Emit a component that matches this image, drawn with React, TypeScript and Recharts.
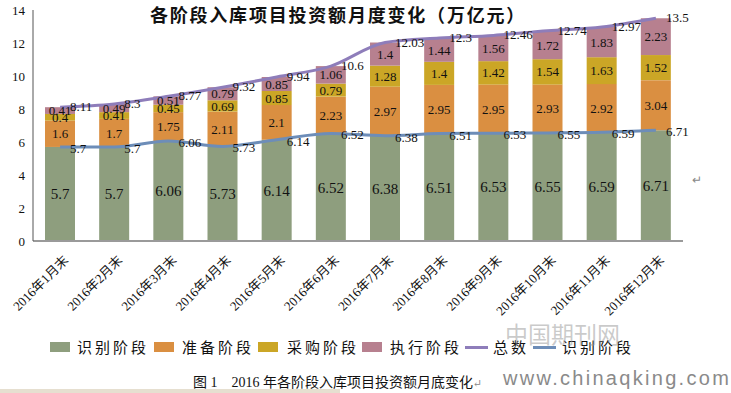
import React from 'react';
import { ComposedChart, Bar, Line, XAxis, YAxis, LabelList } from 'recharts';

const months = ['2016年1月末', '2016年2月末', '2016年3月末', '2016年4月末', '2016年5月末', '2016年6月末', '2016年7月末', '2016年8月末', '2016年9月末', '2016年10月末', '2016年11月末', '2016年12月末'];
const shibie = [5.7, 5.7, 6.06, 5.73, 6.14, 6.52, 6.38, 6.51, 6.53, 6.55, 6.59, 6.71];
const zhunbei = [1.6, 1.7, 1.75, 2.11, 2.1, 2.23, 2.97, 2.95, 2.95, 2.93, 2.92, 3.04];
const caigou = [0.4, 0.41, 0.45, 0.69, 0.85, 0.79, 1.28, 1.4, 1.42, 1.54, 1.63, 1.52];
const zhixing = [0.41, 0.49, 0.51, 0.79, 0.85, 1.06, 1.4, 1.44, 1.56, 1.72, 1.83, 2.23];
const zongshu = [8.11, 8.3, 8.77, 9.32, 9.94, 10.6, 12.03, 12.3, 12.46, 12.74, 12.97, 13.5];
const yTicks = [0, 2, 4, 6, 8, 10, 12, 14];

const data = months.map((m, i) => ({
  month: m,
  shibie: shibie[i],
  zhunbei: zhunbei[i],
  caigou: caigou[i],
  zhixing: zhixing[i],
  zongshu: zongshu[i],
  shibieLine: shibie[i],
}));

const NUM_FONT = '"Liberation Serif", "DejaVu Serif", serif';
const CJK_FONT = '"Noto Sans CJK SC", sans-serif';

const COLORS = {
  shibie: '#8E9E7E',
  zhunbei: '#DA8F41',
  caigou: '#CBA626',
  zhixing: '#B7808F',
  zongshu: '#8E7DBA',
  shibieLine: '#6D8DB8',
};

const MonthTick = (props: any) => {
  const { x, y, payload } = props;
  return (
    <g transform={`translate(${x + 9},${y + 12})`}>
      <text transform="rotate(-45)" textAnchor="end" fontSize={13} fontFamily={`${NUM_FONT}, ${CJK_FONT}`} fill="#111">
        {payload.value}
      </text>
    </g>
  );
};

const sideLabel = (dy: number) => (props: any) => {
  const { x, y, value } = props;
  return (
    <text x={x + 10} y={y + dy} fontSize={13} fontFamily={NUM_FONT} fill="#111">
      {value}
    </text>
  );
};

const legendItems = [
  { label: '识别阶段', color: COLORS.shibie, type: 'rect', x: 50, tx: 77 },
  { label: '准备阶段', color: COLORS.zhunbei, type: 'rect', x: 154, tx: 182 },
  { label: '采购阶段', color: COLORS.caigou, type: 'rect', x: 258, tx: 287 },
  { label: '执行阶段', color: COLORS.zhixing, type: 'rect', x: 362, tx: 390 },
  { label: '总数', color: COLORS.zongshu, type: 'line', x: 465, tx: 493 },
  { label: '识别阶段', color: COLORS.shibieLine, type: 'line', x: 533, tx: 562 },
];

export default function App() {
  return (
    <div style={{ position: 'absolute', left: 0, top: 0, width: 731, height: 393, background: '#fff', overflow: 'hidden' }}>
      <div style={{ position: 'absolute', left: 0, width: 676, top: 1, textAlign: 'center', fontFamily: CJK_FONT, fontWeight: 700, fontSize: 18, letterSpacing: 1.8, color: '#111' }}>
        各阶段入库项目投资额月度变化（万亿元）
      </div>
      <ComposedChart width={731} height={320} data={data} margin={{ top: 10, right: 48, left: 0, bottom: 0 }} barCategoryGap={24}>
        <XAxis dataKey="month" interval={0} height={79} tick={<MonthTick />} tickLine={false} axisLine={{ stroke: '#9a9a9a', strokeWidth: 2 }} />
        <YAxis domain={[0, 14]} ticks={yTicks} width={33} tickLine={false} axisLine={{ stroke: '#555' }} tick={{ fontSize: 13, fontFamily: NUM_FONT, fill: '#111' }} />
        <Bar dataKey="shibie" stackId="a" fill={COLORS.shibie} barSize={30} isAnimationActive={false}>
          <LabelList dataKey="shibie" position="center" fontSize={15} fontFamily={NUM_FONT} fill="#111" />
        </Bar>
        <Bar dataKey="zhunbei" stackId="a" fill={COLORS.zhunbei} barSize={30} isAnimationActive={false}>
          <LabelList dataKey="zhunbei" position="center" fontSize={13} fontFamily={NUM_FONT} fill="#111" />
        </Bar>
        <Bar dataKey="caigou" stackId="a" fill={COLORS.caigou} barSize={30} isAnimationActive={false}>
          <LabelList dataKey="caigou" position="center" fontSize={13} fontFamily={NUM_FONT} fill="#111" />
        </Bar>
        <Bar dataKey="zhixing" stackId="a" fill={COLORS.zhixing} barSize={30} isAnimationActive={false}>
          <LabelList dataKey="zhixing" position="center" fontSize={13} fontFamily={NUM_FONT} fill="#111" />
        </Bar>
        <Line dataKey="shibieLine" type="monotone" stroke={COLORS.shibieLine} strokeWidth={3} dot={false} isAnimationActive={false}>
          <LabelList dataKey="shibieLine" content={sideLabel(6)} />
        </Line>
        <Line dataKey="zongshu" type="monotone" stroke={COLORS.zongshu} strokeWidth={3} dot={false} isAnimationActive={false}>
          <LabelList dataKey="zongshu" content={sideLabel(4)} />
        </Line>
      </ComposedChart>
      {legendItems.map((it, i) => (
        <React.Fragment key={i}>
          {it.type === 'rect' ? (
            <div style={{ position: 'absolute', left: it.x, top: 342, width: 20, height: 10, background: it.color }} />
          ) : (
            <div style={{ position: 'absolute', left: it.x, top: 346, width: 23, height: 3, background: it.color }} />
          )}
          <div style={{ position: 'absolute', left: it.tx, top: 336, fontFamily: CJK_FONT, fontSize: 15, letterSpacing: 3, color: '#111', whiteSpace: 'nowrap' }}>
            {it.label}
          </div>
        </React.Fragment>
      ))}
      <div style={{ position: 'absolute', left: 505, top: 316, fontFamily: CJK_FONT, fontSize: 23, color: 'rgba(150,150,150,0.5)', whiteSpace: 'nowrap' }}>
        中国期刊网
      </div>
      <div style={{ position: 'absolute', left: 692, top: 173, fontSize: 12, color: '#888' }}>↵</div>
      <div style={{ position: 'absolute', left: 193, top: 371, fontFamily: `${NUM_FONT}, ${CJK_FONT}`, fontSize: 14, color: '#111', whiteSpace: 'nowrap' }}>
        图 1　2016 年各阶段入库项目投资额月底变化<span style={{ color: '#888', fontSize: 11 }}>↵</span>
      </div>
      <div style={{ position: 'absolute', left: 0, top: 389, width: 340, height: 4, background: '#E6DFD0' }} />
      <div style={{ position: 'absolute', left: 503, top: 367, fontFamily: '"Liberation Sans", sans-serif', fontSize: 20, letterSpacing: 2.3, color: '#8a8a8a', whiteSpace: 'nowrap' }}>
        www.chinaqking.com
      </div>
    </div>
  );
}
